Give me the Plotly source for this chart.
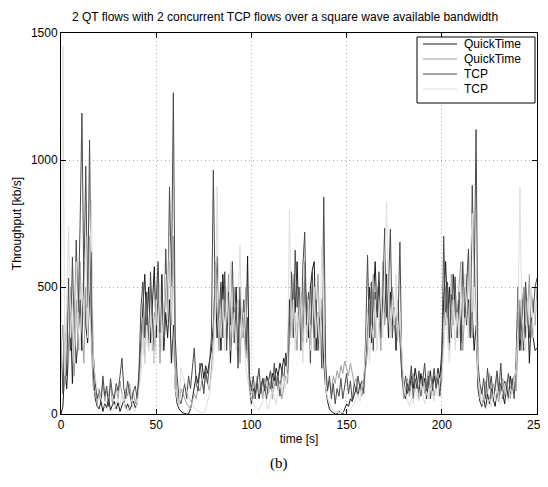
import numpy as np
import plotly.graph_objects as go

# throughput samples, one per second, t = 0 .. 250 s  [kb/s]
time_s = list(range(251))

qt1 = [0, 30, 180, 100, 250, 400, 120, 350, 200, 300, 450, 250, 600, 350, 280, 500, 638, 150,
       60, 30, 20, 50, 10, 40, 25, 60, 15, 35, 50, 20, 45, 10, 30, 55, 20, 40, 15, 30, 50, 25, 40, 150,
       300, 450, 550, 350, 500, 280, 420, 580, 300, 480, 350, 550, 250, 400, 300, 450, 200, 350, 100, 40, 20,
       10, 5, 2, 0, 0, 20, 60, 100, 150, 120, 180, 200, 140, 190, 160, 210, 250,
       350, 520, 300, 450, 250, 550, 400, 300, 480, 200, 420, 350, 500, 280, 450, 300, 380, 250, 622, 100,
       40, 100, 80, 130, 60, 110, 140, 90, 150, 120, 100, 160, 130, 180, 150, 200, 170, 220, 190, 250,
       450, 300, 520, 400, 600, 350, 480, 280, 550, 420, 300, 500, 567, 600, 250, 400, 300, 450, 200, 100,
       50, 20, 10, 5, 0, 0, 10, 5, 0, 20, 40, 30, 60, 50, 80, 100, 70, 120, 90, 150, 200,
       350, 500, 280, 450, 600, 380, 520, 300, 460, 400, 550, 300, 480, 350, 420, 250, 400, 300, 150, 80,
       60, 120, 90, 150, 100, 180, 130, 80, 160, 110, 140, 60, 120, 170, 90, 150, 110, 180, 140, 250,
       450, 600, 380, 500, 300, 550, 420, 350, 480, 280, 400, 500, 350, 450, 300, 400, 250, 350, 100, 50,
       30, 60, 20, 80, 40, 100, 60, 30, 90, 50, 120, 70, 40, 110, 60, 150, 90, 120, 180,
       400, 250, 350, 500, 300, 450, 200, 380, 300, 250, 260]

qt2 = [250, 350, 120, 400, 200, 500, 300, 150, 450, 250, 600, 350, 200, 500, 300, 700, 250, 100,
       80, 40, 100, 60, 130, 50, 90, 70, 120, 40, 80, 100, 60, 130, 80, 50, 100, 70, 120, 60, 90, 40, 80, 120,
       250, 380, 200, 450, 300, 500, 250, 400, 350, 550, 200, 450, 300, 500, 420, 600, 350, 700, 200, 80, 40,
       100, 80, 60, 40, 30, 20, 50, 80, 60, 110, 90, 130, 100, 150, 120, 90, 180,
       300, 600, 400, 250, 500, 350, 450, 300, 550, 250, 400, 500, 300, 450, 200, 380, 300, 500, 250, 100,
       120, 60, 100, 150, 80, 120, 60, 140, 100, 80, 130, 60, 110, 150, 90, 130, 60, 100, 150, 120,
       300, 450, 550, 350, 250, 500, 400, 300, 600, 280, 450, 350, 500, 250, 400, 550, 300, 450, 350, 150,
       100, 130, 80, 150, 120, 170, 140, 190, 160, 208, 180, 150, 200, 160, 120, 140, 90, 110, 70, 100, 180,
       250, 450, 350, 550, 300, 500, 400, 250, 600, 350, 450, 550, 300, 500, 400, 350, 450, 300, 200, 60,
       100, 140, 70, 120, 160, 90, 130, 60, 110, 150, 80, 120, 170, 100, 140, 70, 120, 160, 90, 130,
       300, 500, 400, 250, 550, 350, 450, 300, 500, 600, 250, 400, 550, 350, 450, 300, 650, 400, 150, 60,
       100, 50, 130, 80, 160, 60, 120, 90, 150, 50, 110, 140, 70, 130, 100, 60, 120, 150, 90,
       300, 450, 250, 500, 350, 400, 550, 300, 450, 350, 500]

tcp1 = [300, 80, 320, 150, 535, 250, 618, 300, 685, 400, 736, 1185, 500, 976, 420, 1079, 350, 230,
        120, 60, 90, 40, 150, 70, 110, 30, 140, 80, 60, 120, 90, 150, 220, 100, 60, 130, 80, 40, 90, 110, 60, 180,
        420, 520, 300, 480, 250, 560, 380, 200, 450, 600, 320, 500, 280, 650, 380, 894, 500, 1265, 300, 150, 60,
        40, 80, 120, 60, 150, 100, 180, 260, 120, 90, 200, 140, 80, 170, 120, 200, 300,
        960, 450, 620, 380, 520, 300, 560, 250, 480, 350, 600, 280, 420, 180, 500, 320, 450, 220, 380, 150,
        90, 150, 60, 120, 180, 80, 140, 100, 60, 130, 170, 90, 200, 110, 150, 70, 180, 130, 240, 160,
        400, 560, 300, 645, 420, 500, 250, 580, 716, 350, 480, 200, 560, 300, 450, 250, 380, 180, 854, 200,
        90, 150, 60, 120, 40, 100, 70, 140, 60, 110, 160, 80, 130, 50, 120, 90, 150, 100, 130, 80, 300,
        626, 300, 520, 250, 480, 400, 560, 350, 450, 732, 380, 500, 728, 300, 420, 260, 350, 677, 200, 100,
        150, 80, 120, 190, 60, 140, 100, 170, 70, 130, 200, 90, 150, 60, 120, 180, 100, 140, 70, 200,
        700, 350, 520, 280, 470, 400, 540, 300, 450, 250, 600, 380, 500, 650, 300, 900, 500, 1120, 200, 120,
        80, 140, 60, 180, 100, 150, 50, 120, 170, 90, 200, 60, 130, 100, 160, 80, 140, 60, 210,
        500, 300, 450, 250, 520, 380, 300, 480, 400, 500, 535]

tcp2 = [200, 1450, 150, 500, 736, 300, 450, 200, 600, 350, 250, 500, 400, 700, 300, 550, 842, 200,
        150, 100, 80, 60, 40, 30, 20, 15, 10, 10, 20, 40, 60, 30, 80, 50, 20, 10, 30, 60, 20, 10, 40, 100,
        150, 300, 200, 350, 250, 400, 300, 200, 450, 300, 500, 250, 400, 550, 350, 700, 450, 300, 100, 60, 30,
        180, 150, 120, 90, 70, 50, 35, 25, 15, 10, 8, 5, 5, 20, 50, 80, 150,
        200, 350, 898, 400, 300, 450, 250, 500, 350, 600, 300, 400, 250, 450, 665, 300, 400, 200, 150, 80,
        60, 40, 30, 20, 15, 30, 50, 80, 40, 20, 60, 100, 70, 40, 90, 120, 80, 150, 100, 200,
        803, 300, 450, 250, 400, 350, 500, 200, 400, 300, 450, 250, 350, 500, 300, 400, 250, 665, 300, 100,
        60, 40, 25, 15, 10, 10, 5, 5, 5, 10, 15, 10, 20, 30, 40, 60, 80, 50, 100, 150, 250,
        400, 200, 350, 300, 450, 250, 400, 500, 300, 600, 835, 400, 300, 450, 350, 550, 300, 400, 250, 100,
        80, 50, 30, 60, 40, 100, 70, 50, 120, 80, 40, 90, 60, 130, 80, 50, 100, 70, 140, 150,
        250, 400, 300, 200, 350, 450, 250, 400, 300, 500, 350, 550, 400, 300, 600, 790, 450, 350, 150, 80,
        50, 30, 20, 40, 60, 30, 80, 50, 100, 60, 40, 90, 120, 70, 50, 100, 80, 130, 180,
        350, 894, 400, 300, 250, 450, 350, 500, 300, 400, 450]

names = ["QuickTime", "QuickTime", "TCP", "TCP"]
series = [qt1, qt2, tcp1, tcp2]
colors = ["#1a1a1a", "#a0a0a0", "#4a4a4a", "#dedede"]

fig = go.Figure()
for name, y, c in zip(names, series, colors):
    fig.add_trace(go.Scatter(x=time_s[:len(y)], y=y, mode="lines", name=name,
                             line=dict(color=c, width=1), showlegend=False))

# the page body has an 8px margin, so the figure is offset by 8px
W, H = 540, 463
L, R, T, B = 53, 11, 25, 57
pw, ph = W - L - R, H - T - B

def px(x):  # page pixel -> paper x
    return (x - 8 - L) / pw

def py(y):  # page pixel -> paper y
    return (H - B - (y - 8)) / ph

axis_style = dict(showline=True, linecolor="black", linewidth=1, mirror="allticks",
                  ticks="inside", ticklen=5, tickcolor="black", automargin=False,
                  ticklabeloverflow="allow",
                  showgrid=True, gridcolor="#b0b0b0", griddash="1px,3px", gridwidth=1,
                  zeroline=False, tickfont=dict(size=12, color="black"))

fig.update_xaxes(range=[0, 250], tickvals=[0, 50, 100, 150, 200, 250],
                 title=dict(text="time [s]", standoff=3, font=dict(size=12)), **axis_style)
fig.update_yaxes(range=[0, 1500], tickvals=[0, 500, 1000, 1500],
                 title=dict(text="Throughput [kb/s]", standoff=6, font=dict(size=12)), **axis_style)

# MATLAB-style legend box
shapes = [dict(type="rect", xref="paper", yref="paper", x0=px(417), x1=px(535), y0=py(103), y1=py(37),
               fillcolor="white", line=dict(color="black", width=1), layer="above")]
annotations = []
rows = [44, 59, 74, 89]
for name, c, r in zip(names, colors, rows):
    shapes.append(dict(type="line", xref="paper", yref="paper", x0=px(423), x1=px(457), y0=py(r), y1=py(r),
                       line=dict(color=c, width=1), layer="above"))
    annotations.append(dict(text=name, xref="paper", yref="paper", x=px(462), y=py(r),
                            xanchor="left", yanchor="middle", showarrow=False, font=dict(size=12)))

annotations.append(dict(text="(b)", xref="paper", yref="paper", x=px(279), y=py(463),
                        xanchor="center", yanchor="middle", showarrow=False,
                        font=dict(family="Liberation Serif, Times New Roman, serif", size=15)))

fig.update_layout(
    width=W, height=H,
    margin=dict(l=L, r=R, t=T, b=B, autoexpand=False),
    paper_bgcolor="white", plot_bgcolor="white",
    font=dict(family="Liberation Sans, Arial, sans-serif", size=12, color="black"),
    title=dict(text="2 QT flows with 2 concurrent TCP flows over a square wave available bandwidth",
               x=(285 - 8) / W, xanchor="center", y=1 - (17 - 8) / H, yanchor="middle",
               font=dict(size=12)),
    showlegend=False,
    shapes=shapes,
    annotations=annotations,
)

fig.write_html("out.html")
